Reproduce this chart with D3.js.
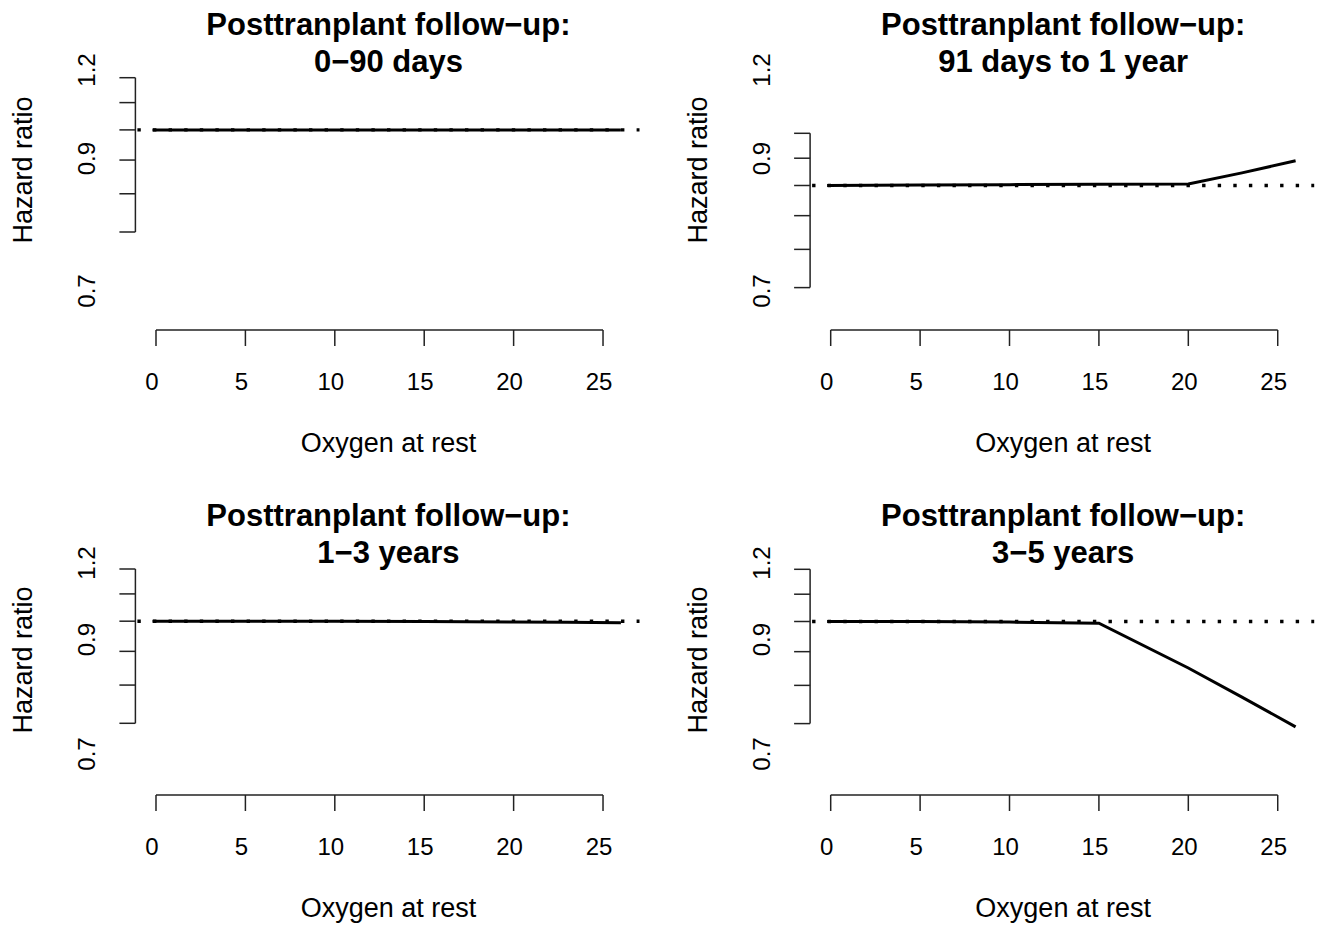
<!DOCTYPE html>
<meta charset="utf-8">
<style>
html, body {
  margin: 0;
  overflow: hidden;
  background: #fff;
}
text {
  font-family: "Liberation Sans", Arial, Helvetica, sans-serif;
  fill: #000;
}
.title { font-size: 31px; font-weight: bold; }
.lab { font-size: 27px; }
.tick { font-size: 24px; }
</style>
<title>Hazard ratio by oxygen at rest</title>
<body>
<script src="https://d3js.org/d3.v7.min.js"></script>
<script>
// data
var oxygen = [-0.2, 5, 10, 15, 20, 23, 26];
var hr0to90d = [1.0, 1.0, 1.0, 1.0, 1.0, 1.0, 1.0];
var hr91dto1y = [1.0, 1.002, 1.003, 1.004, 1.005, 1.045, 1.09];
var hr1to3y = [1.0, 1.0, 1.0, 0.999, 0.997, 0.996, 0.995];
var hr3to5y = [1.0, 1.0, 0.998, 0.994, 0.85, 0.768, 0.692];

var titleLine1 = "Posttranplant follow\u2212up:";
var periods = ["0\u221290 days", "91 days to 1 year", "1\u22123 years", "3\u22125 years"];
var series = [hr0to90d, hr91dto1y, hr1to3y, hr3to5y];

var xTicks = [0, 5, 10, 15, 20, 25];
var yTicks = [1.2, 1.1, 1.0, 0.9, 0.8, 0.7];
var yLabels = [1.2, 0.9, 0.7];
var refHR = 1;
var xDomain = [-1.04, 27.04];

var width = 1321, height = 925;

// layout of each panel (pixels)
var panels = [
  {left: 137.4, right: 639.5, tickTop: 77.7, labTop: 70, labBot: 291, axisY: 330, titleY: 35, ylabY: 170},
  {left: 812.1, right: 1314.2, tickTop: 133.3, labTop: 70, labBot: 291, axisY: 330, titleY: 35, ylabY: 170},
  {left: 137.4, right: 639.5, tickTop: 569, labTop: 563, labBot: 754, axisY: 795, titleY: 526, ylabY: 660},
  {left: 812.1, right: 1314.2, tickTop: 569.3, labTop: 563, labBot: 754, axisY: 795, titleY: 526, ylabY: 660}
];

var svg = d3.select("body").append("svg")
    .attr("width", width)
    .attr("height", height);

svg.append("rect")
    .attr("width", width)
    .attr("height", height)
    .attr("fill", "#fff");

panels.forEach(function(p, i) {
  var g = svg.append("g");

  var x = d3.scaleLinear().domain(xDomain).range([p.left, p.right]);
  var y = d3.scaleLog().domain([1.2, 0.7]).range([p.tickTop, p.tickTop + 154.3]);
  // tick labels sit on their own spacing in the original
  var yLab = d3.scalePow().exponent(-2).domain([1.2, 0.7]).range([p.labTop, p.labBot]);
  var axX = p.left - 2;
  var cx = (p.left + p.right) / 2;

  // titles
  g.append("text").attr("class", "title")
      .attr("x", cx).attr("y", p.titleY)
      .attr("text-anchor", "middle")
      .text(titleLine1);
  g.append("text").attr("class", "title")
      .attr("x", cx).attr("y", p.titleY + 37)
      .attr("text-anchor", "middle")
      .text(periods[i]);

  // x axis
  var xAxis = g.append("g").attr("transform", "translate(0," + p.axisY + ")");
  xAxis.append("line")
      .attr("x1", x(xTicks[0])).attr("x2", x(xTicks[xTicks.length - 1]))
      .attr("stroke", "#222").attr("stroke-width", 1.5);
  xAxis.selectAll(".xt").data(xTicks).enter().append("line")
      .attr("x1", x).attr("x2", x)
      .attr("y1", 0).attr("y2", 16)
      .attr("stroke", "#222").attr("stroke-width", 1.5);
  xAxis.selectAll(".xl").data(xTicks).enter().append("text")
      .attr("class", "tick")
      .attr("x", function(d) { return x(d) - 4; })
      .attr("y", 60)
      .attr("text-anchor", "middle")
      .text(function(d) { return d; });
  g.append("text").attr("class", "lab")
      .attr("x", cx).attr("y", p.axisY + 122)
      .attr("text-anchor", "middle")
      .text("Oxygen at rest");

  // y axis
  var yAxis = g.append("g");
  yAxis.append("line")
      .attr("x1", axX).attr("x2", axX)
      .attr("y1", y(yTicks[0])).attr("y2", y(yTicks[yTicks.length - 1]))
      .attr("stroke", "#222").attr("stroke-width", 1.5);
  yAxis.selectAll(".yt").data(yTicks).enter().append("line")
      .attr("x1", axX - 16).attr("x2", axX)
      .attr("y1", y).attr("y2", y)
      .attr("stroke", "#222").attr("stroke-width", 1.5);
  yAxis.selectAll(".yl").data(yLabels).enter().append("text")
      .attr("class", "tick")
      .attr("text-anchor", "middle")
      .attr("transform", function(d) {
        return "translate(" + (axX - 40) + "," + yLab(d) + ") rotate(-90)";
      })
      .text(function(d) { return d.toFixed(1); });
  g.append("text").attr("class", "lab")
      .attr("text-anchor", "middle")
      .attr("transform", "translate(" + (axX - 103) + "," + p.ylabY + ") rotate(-90)")
      .text("Hazard ratio");

  // hazard ratio curve
  var pts = oxygen.map(function(o, k) { return [o, series[i][k]]; });
  var line = d3.line()
      .x(function(d) { return x(d[0]); })
      .y(function(d) { return y(d[1]); });
  g.append("path")
      .attr("d", line(pts))
      .attr("fill", "none")
      .attr("stroke", "#000")
      .attr("stroke-width", 3);

  // reference line at HR = 1
  g.append("line")
      .attr("x1", x(xDomain[0])).attr("x2", x(xDomain[1]))
      .attr("y1", y(refHR)).attr("y2", y(refHR))
      .attr("stroke", "#000")
      .attr("stroke-width", 3.4)
      .attr("stroke-dasharray", "3.4 12.2");
});
</script>
</body>
